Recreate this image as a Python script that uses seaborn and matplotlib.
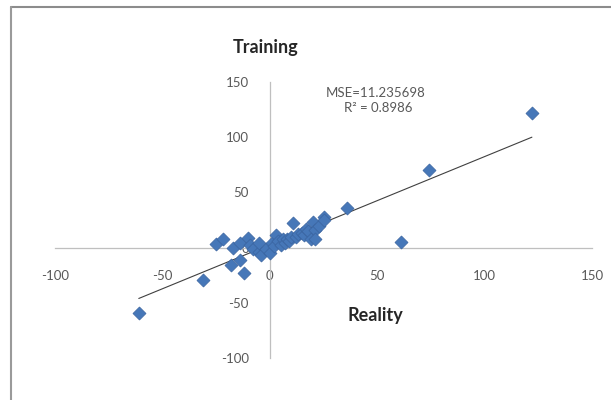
#!/usr/bin/env python3
import matplotlib
matplotlib.use("Agg")
import numpy as np
import pandas as pd
import seaborn as sns
from matplotlib import pyplot as plt
from matplotlib.lines import Line2D

# values
reality = [-61, -31, -25, -22, -18, -14, -12, -17, -14, -10, -9, -8, -5, -4, -5, -2,
           0, 1, 2, 3, 4, 5, 6, 7, 8, 9, 10, 11, 12, 13, 15, 16, 17, 18, 19, 20,
           21, 21, 23, 25, 25, 36, 61, 74, 122]
training = [-59, -29, 3, 8, -16, -11, -23, 0, 4, 9, 2, -1, -4, -7, 4, -1,
            -5, 4, 1, 11, 6, 2, 8, 4, 8, 6, 10, 22, 10, 12, 13, 11, 17, 15, 8, 23,
            16, 8, 20, 28, 25, 36, 5, 70, 122]
ticks = [-100, -50, 0, 50, 100, 150]
mse_label = "MSE=11.235698"
r2_label = "R² = 0.8986"

sns.set_style("white")
plt.rcParams['font.family'] = ['Lato', 'DejaVu Sans']
plt.rcParams['axes.unicode_minus'] = False

df = pd.DataFrame({"reality": reality, "training": training})

fig = plt.figure(figsize=(6.11, 4.0), dpi=100)
ax = fig.add_axes([0.090, 0.105, 0.879, 0.69])

sns.regplot(data=df, x="reality", y="training", ci=None, marker="D", ax=ax,
            scatter_kws={"s": 44, "color": "#4677B8", "edgecolor": "#3A64A0",
                         "linewidths": 0.5, "alpha": 1, "zorder": 3},
            line_kws={"color": "#404040", "lw": 0.8, "zorder": 2})

ax.set_xlim(ticks[0], ticks[-1])
ax.set_ylim(ticks[0], ticks[-1])
ax.set_xticks(ticks)
ax.set_yticks(ticks)
ax.set_xlabel("")
ax.set_ylabel("")
ax.set_axisbelow(True)

for side in ("top", "right"):
    ax.spines[side].set_visible(False)
for side in ("left", "bottom"):
    ax.spines[side].set_position(("data", 0))
    ax.spines[side].set_color("#BFBFBF")
    ax.spines[side].set_linewidth(0.9)

ax.tick_params(axis="x", length=3, color="#BFBFBF", pad=13, labelsize=9.5, labelcolor="#595959")
ax.tick_params(axis="y", length=3, color="#BFBFBF", pad=12, labelsize=9.5, labelcolor="#595959")
ax.patch.set_alpha(0)

fig.text(0.434, 0.8825, "Training", ha="center", va="center", fontsize=13, fontweight="bold")
fig.text(0.615, 0.2125, "Reality", ha="center", va="center", fontsize=13, fontweight="bold")
fig.text(0.615, 0.7675, mse_label, ha="center", va="center", fontsize=9.5, color="#595959")
fig.text(0.619, 0.730, r2_label, ha="center", va="center", fontsize=9.5, color="#595959")

# chart frame (top and left edges visible in the reference)
fig.add_artist(Line2D([0.018, 1.0], [0.983, 0.983], color="#8C8C8C", lw=1.5))
fig.add_artist(Line2D([0.018, 0.018], [0.0, 0.983], color="#9A9A9A", lw=1.5))

fig.savefig("out.png", dpi=100)
